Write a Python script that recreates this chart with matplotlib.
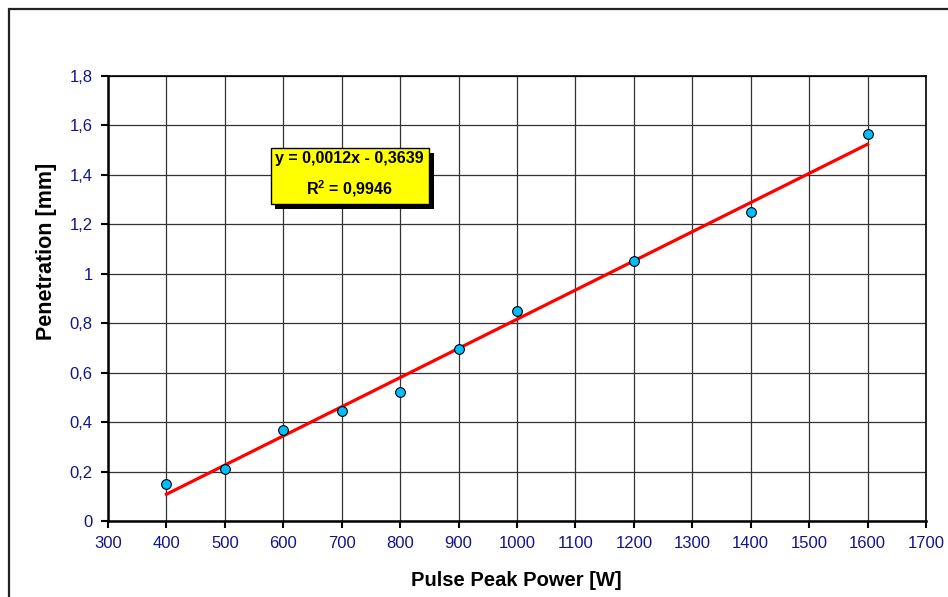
import numpy as np
import matplotlib.pyplot as plt
from matplotlib import patheffects
from matplotlib.patches import Rectangle
from matplotlib.ticker import FuncFormatter

plt.rcParams['font.family'] = ['Liberation Sans', 'DejaVu Sans']
plt.rcParams['mathtext.fontset'] = 'custom'
plt.rcParams['mathtext.rm'] = 'Liberation Sans'
plt.rcParams['mathtext.bf'] = 'Liberation Sans:bold'

power = [400, 500, 600, 700, 800, 900, 1000, 1200, 1400, 1600]  # W
penetration = [0.15, 0.21, 0.37, 0.445, 0.52, 0.695, 0.85, 1.05, 1.25, 1.565]  # mm

# linear trendline
slope = 0.00118
intercept = -0.3639
r2 = 0.9946

x_ticks = list(range(300, 1701, 100))
y_ticks = [0, 0.2, 0.4, 0.6, 0.8, 1, 1.2, 1.4, 1.6, 1.8]

def comma(v, pos=None):
    return f"{v:g}".replace('.', ',')

fig = plt.figure(figsize=(9.48, 5.97), dpi=100)
ax = fig.add_axes([108/948, 76/597, 818/948, 445/597])

# outer chart frame
fig.patches.append(Rectangle((9/948, -0.1), 1.2, 1.1 - 9/597, transform=fig.transFigure,
                             fill=False, ec='#222222', lw=1.6, zorder=0))

xs = np.array([power[0], power[-1]])
ax.plot(xs, slope*xs + intercept, color='red', lw=2.3, zorder=3)
ax.plot(power, penetration, 'o', ms=7, mfc='#00BFFF', mec='black', mew=0.8, zorder=4)

ax.set_xlim(300, 1700)
ax.set_ylim(0, 1.8)
ax.set_xticks(x_ticks)
ax.set_yticks(y_ticks)
ax.xaxis.set_major_formatter(FuncFormatter(comma))
ax.yaxis.set_major_formatter(FuncFormatter(comma))
ax.grid(True, color='#333333', lw=0.9)
ax.set_axisbelow(True)
ax.tick_params(direction='out', length=5, width=1.5, colors='black',
               labelcolor='#14148a', labelsize=12, pad=6)
for s in ['left', 'bottom']:
    ax.spines[s].set_linewidth(1.8)
for s in ['top', 'right']:
    ax.spines[s].set_linewidth(1.2)

fig.text(516/948, 1 - 580/597, 'Pulse Peak Power [W]', ha='center', va='center',
         fontsize=14.5, fontweight='bold')
fig.text(47/948, 1 - 251/597, 'Penetration [mm]', ha='center', va='center',
         rotation=90, fontsize=15.5, fontweight='bold')

label = (f"y = {slope:.4f}x - {abs(intercept):.4f}\n"
         f"R$^\\mathbf{{2}}$ = {r2:.4f}").replace('.', ',')
t = ax.text(0.2955, 0.777, label, transform=ax.transAxes, ha='center', va='center',
            fontsize=11.5, fontweight='bold', linespacing=1.75, zorder=5,
            bbox=dict(boxstyle='square,pad=0.3', fc='#FFFF00', ec='black', lw=1))
t.get_bbox_patch().set_path_effects([
    patheffects.SimplePatchShadow(offset=(3.5, -3.5), shadow_rgbFace='black', alpha=1),
    patheffects.Normal()])

fig.savefig('out.png', dpi=100)
